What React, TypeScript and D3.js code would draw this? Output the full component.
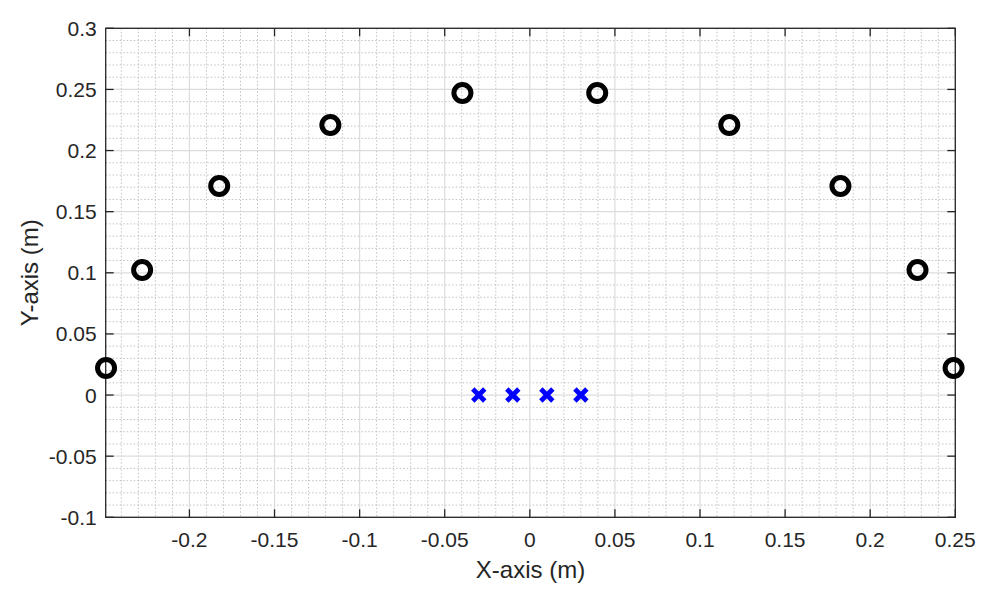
import React from "react";
import * as d3 from "d3";

const circleX = [-0.249, -0.2278, -0.1825, -0.1172, -0.0396, 0.0396, 0.1172, 0.1825, 0.2278, 0.249];
const circleY = [0.0221, 0.1023, 0.171, 0.2209, 0.2471, 0.2471, 0.2209, 0.171, 0.1023, 0.0221];
const crossX = [-0.03, -0.01, 0.01, 0.03];
const crossY = [0, 0, 0, 0];
const xTicks = [-0.2, -0.15, -0.1, -0.05, 0, 0.05, 0.1, 0.15, 0.2, 0.25];
const xTickLabels = ["-0.2", "-0.15", "-0.1", "-0.05", "0", "0.05", "0.1", "0.15", "0.2", "0.25"];
const yTicks = [-0.1, -0.05, 0, 0.05, 0.1, 0.15, 0.2, 0.25, 0.3];
const yTickLabels = ["-0.1", "-0.05", "0", "0.05", "0.1", "0.15", "0.2", "0.25", "0.3"];

const W = 1000, H = 614;
const L = 105.7, R = 955.3, T = 28.3, B = 517.3;
const FONT = "'Liberation Sans', Arial, Helvetica, sans-serif";
const AX = "#262626";

export default function App() {
  const x = d3.scaleLinear().domain([-0.2492, 0.25]).range([L, R]);
  const y = d3.scaleLinear().domain([-0.1, 0.3]).range([B, T]);
  const isMajor = (v: number, arr: number[]) => arr.some((a) => Math.abs(a - v) < 1e-9);
  const xMinor = x.ticks(50).filter((v) => !isMajor(v, xTicks));
  const yMinor = y.ticks(40).filter((v) => !isMajor(v, yTicks));
  const tl = 8;
  const arm = 6;
  return (
    <svg width={W} height={H} style={{ position: "absolute", left: 0, top: 0, background: "#fff" }} fontFamily={FONT}>
      <rect x={0} y={0} width={W} height={H} fill="#fff" />
      {/* minor grid */}
      <g stroke="#c2c2c2" strokeWidth={1} strokeDasharray="1.5,2" fill="none">
        {xMinor.map((v, i) => (
          <line key={"xm" + i} x1={x(v)} x2={x(v)} y1={T} y2={B} />
        ))}
        {yMinor.map((v, i) => (
          <line key={"ym" + i} x1={L} x2={R} y1={y(v)} y2={y(v)} />
        ))}
      </g>
      {/* major grid */}
      <g stroke="#dcdcdc" strokeWidth={1.2} fill="none">
        {xTicks.map((v, i) => (
          <line key={"xg" + i} x1={x(v)} x2={x(v)} y1={T} y2={B} />
        ))}
        {yTicks.map((v, i) => (
          <line key={"yg" + i} x1={L} x2={R} y1={y(v)} y2={y(v)} />
        ))}
      </g>
      {/* box */}
      <rect x={L} y={T} width={R - L} height={B - T} fill="none" stroke={AX} strokeWidth={1.3} />
      {/* ticks */}
      <g stroke={AX} strokeWidth={1.3}>
        {xTicks.map((v, i) => (
          <g key={"xt" + i}>
            <line x1={x(v)} x2={x(v)} y1={B} y2={B - tl} />
            <line x1={x(v)} x2={x(v)} y1={T} y2={T + tl} />
          </g>
        ))}
        {yTicks.map((v, i) => (
          <g key={"yt" + i}>
            <line x1={L} x2={L + tl} y1={y(v)} y2={y(v)} />
            <line x1={R} x2={R - tl} y1={y(v)} y2={y(v)} />
          </g>
        ))}
      </g>
      {/* tick labels */}
      <g fill={AX} fontSize={21}>
        {xTicks.map((v, i) => (
          <text key={"xl" + i} x={x(v)} y={546.5} textAnchor="middle">
            {xTickLabels[i]}
          </text>
        ))}
        {yTicks.map((v, i) => (
          <text key={"yl" + i} x={L - 9} y={y(v) + 7.5} textAnchor="end">
            {yTickLabels[i]}
          </text>
        ))}
      </g>
      {/* axis labels */}
      <text x={(L + R) / 2} y={578} textAnchor="middle" fontSize={24} fill={AX}>
        X-axis (m)
      </text>
      <text
        transform={`translate(38,${(T + B) / 2}) rotate(-90)`}
        textAnchor="middle"
        fontSize={24}
        fill={AX}
      >
        Y-axis (m)
      </text>
      {/* circles */}
      <g fill="none" stroke="#000" strokeWidth={5}>
        {circleX.map((v, i) => (
          <circle key={"c" + i} cx={x(v)} cy={y(circleY[i])} r={8.5} />
        ))}
      </g>
      {/* crosses */}
      <g stroke="#0000ff" strokeWidth={4.8} strokeLinecap="butt">
        {crossX.map((v, i) => {
          const cx = x(v), cy = y(crossY[i]);
          return (
            <path
              key={"x" + i}
              d={`M${cx - arm},${cy - arm}L${cx + arm},${cy + arm}M${cx - arm},${cy + arm}L${cx + arm},${cy - arm}`}
            />
          );
        })}
      </g>
    </svg>
  );
}
